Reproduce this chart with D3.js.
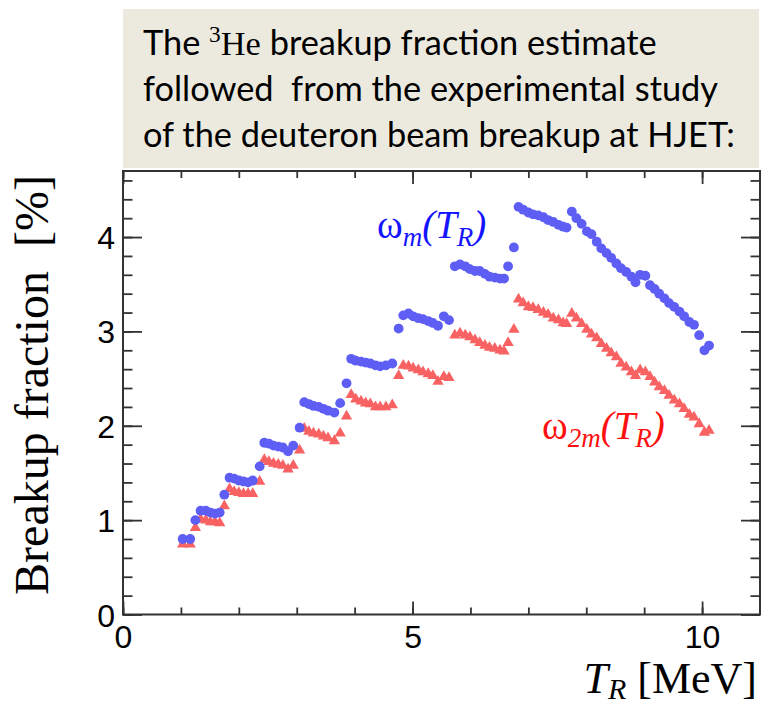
<!DOCTYPE html>
<html><head><meta charset="utf-8">
<script src="https://cdn.jsdelivr.net/npm/d3@7"></script>
<style>body{margin:0;background:#fff} svg{display:block}</style>
</head><body>
<svg id="c" width="763" height="704"></svg>
<script>
// ---- data ----
const energy = [1.03,1.16,1.25,1.34,1.43,1.51,1.59,1.67,1.75,1.84,1.92,2.00,2.08,2.16,2.24,2.36,2.44,2.52,2.60,2.68,2.76,2.85,2.94,3.05,3.13,3.21,3.29,3.38,3.46,3.54,3.65,3.75,3.86,3.94,4.02,4.11,4.19,4.27,4.36,4.44,4.54,4.65,4.76,4.84,4.93,5.01,5.10,5.18,5.27,5.35,5.44,5.54,5.63,5.73,5.82,5.91,5.99,6.08,6.16,6.25,6.33,6.42,6.51,6.58,6.65,6.75,6.83,6.91,7.00,7.08,7.17,7.26,7.34,7.43,7.52,7.60,7.66,7.75,7.83,7.92,8.01,8.09,8.18,8.26,8.35,8.43,8.52,8.60,8.69,8.78,8.85,8.93,9.02,9.10,9.18,9.26,9.35,9.43,9.52,9.61,9.69,9.78,9.86,9.95,10.04,10.12];
const omegaM = [0.80,0.80,1.00,1.10,1.10,1.08,1.07,1.08,1.27,1.45,1.44,1.42,1.41,1.40,1.42,1.57,1.82,1.81,1.79,1.78,1.77,1.73,1.79,1.98,2.25,2.23,2.21,2.20,2.18,2.16,2.14,2.24,2.45,2.71,2.69,2.68,2.67,2.66,2.64,2.63,2.64,2.66,3.03,3.17,3.19,3.16,3.14,3.13,3.11,3.09,3.06,3.16,3.12,3.69,3.71,3.69,3.66,3.64,3.64,3.61,3.58,3.57,3.56,3.56,3.69,3.89,4.32,4.29,4.26,4.24,4.23,4.21,4.18,4.16,4.13,4.11,4.10,4.27,4.20,4.14,4.06,4.03,3.95,3.88,3.83,3.78,3.72,3.67,3.63,3.58,3.52,3.60,3.59,3.49,3.45,3.40,3.35,3.30,3.26,3.21,3.16,3.10,3.07,2.96,2.80,2.85];
const omega2M = [0.745,0.745,0.92,1.01,1.00,0.98,0.98,0.97,1.15,1.33,1.30,1.29,1.28,1.28,1.28,1.41,1.64,1.62,1.60,1.59,1.58,1.54,1.58,1.74,1.97,1.94,1.92,1.91,1.89,1.87,1.84,1.92,2.10,2.33,2.28,2.26,2.24,2.23,2.20,2.20,2.20,2.22,2.53,2.64,2.63,2.61,2.59,2.57,2.55,2.53,2.47,2.52,2.51,2.96,2.98,2.96,2.94,2.91,2.88,2.85,2.83,2.82,2.80,2.79,2.88,3.02,3.34,3.30,3.26,3.25,3.23,3.20,3.18,3.14,3.12,3.09,3.08,3.19,3.14,3.08,3.02,2.97,2.93,2.87,2.82,2.77,2.73,2.66,2.62,2.57,2.53,2.59,2.57,2.52,2.46,2.41,2.37,2.32,2.27,2.23,2.18,2.12,2.09,2.02,1.93,1.95];
const xMajorTicks = [0,5,10];
const xMinorTicks = [0,1,2,3,4,5,6,7,8,9,10];
const yMajorTicks = [0,1,2,3,4];
const yMinorTicks = d3.range(0,24).map(i=>+(i*0.2).toFixed(1));
const titleLines = ["followed  from the experimental study","of the deuteron beam breakup at HJET:"];

// ---- layout ----
const svg = d3.select("#c");
const L=123, R=760, T=171, B=614.5;
const x = d3.scaleLinear().domain([0,11]).range([L,R]);
const y = d3.scaleLinear().domain([0,4.7]).range([B,T]);

// title box
svg.append("rect").attr("x",123).attr("y",9).attr("width",636).attr("height",159).attr("fill","#eceadf");
const tg = svg.append("g").attr("font-family","Lato, 'Open Sans', sans-serif").attr("fill","#000");
const l1 = tg.append("text").attr("x",143).attr("y",55);
l1.append("tspan").text("The ");
l1.append("tspan").attr("font-family","'Liberation Serif', serif").attr("dy",-13).attr("font-size","0.68em").text("3");
l1.append("tspan").attr("font-family","'Liberation Serif', serif").attr("dy",13).text("He");
l1.append("tspan").text(" breakup fraction estimate");
const l2 = tg.append("text").attr("x",143).attr("y",101).text(titleLines[0]).style("white-space","pre");
const l3 = tg.append("text").attr("x",143).attr("y",147).text(titleLines[1]);
tg.attr("font-size",32);
const w3 = l3.node().getComputedTextLength();
tg.attr("font-size", 32*592/w3);

// axes frame
svg.append("rect").attr("x",L).attr("y",T).attr("width",R-L).attr("height",B-T)
  .attr("fill","none").attr("stroke","#333").attr("stroke-width",2);

function ax(gen, tr){ const g=svg.append("g").attr("transform",tr).call(gen);
  g.select(".domain").remove(); g.selectAll("line").attr("stroke","#333").attr("stroke-width",1.8); return g;}
ax(d3.axisBottom(x).tickValues(xMinorTicks).tickSize(-7).tickFormat(""), `translate(0,${B})`);
ax(d3.axisTop(x).tickValues(xMinorTicks).tickSize(-7).tickFormat(""), `translate(0,${T})`);
ax(d3.axisLeft(y).tickValues(yMinorTicks).tickSize(-9.5).tickFormat(""), `translate(${L},0)`);
ax(d3.axisRight(y).tickValues(yMinorTicks).tickSize(-9.5).tickFormat(""), `translate(${R},0)`);
ax(d3.axisTop(x).tickValues(xMajorTicks).tickSize(-13).tickFormat(""), `translate(0,${T})`);
ax(d3.axisRight(y).tickValues(yMajorTicks).tickSize(-19).tickFormat(""), `translate(${R},0)`);
const xb = ax(d3.axisBottom(x).tickValues(xMajorTicks).tickSize(-13).tickPadding(0).tickFormat(d3.format("d")), `translate(0,${B})`);
xb.selectAll("text").attr("y",33).attr("dy",0).attr("font-family","'Liberation Sans', Arial, sans-serif").attr("font-size",32).attr("fill","#000");
const yl = ax(d3.axisLeft(y).tickValues(yMajorTicks).tickSize(-19).tickPadding(0).tickFormat(d3.format("d")), `translate(${L},0)`);
yl.selectAll("text").attr("x",-8).attr("dy","0.36em").attr("font-family","'Liberation Sans', Arial, sans-serif").attr("font-size",32).attr("fill","#000");

// axis titles
svg.append("text").attr("transform","translate(48,385) rotate(-90)").attr("text-anchor","middle")
  .attr("font-family","'Liberation Serif', 'Times New Roman', serif").attr("font-size",48).attr("fill","#000")
  .style("white-space","pre").text("Breakup fraction  [%]");
const xt = svg.append("text").attr("x",757).attr("y",693).attr("text-anchor","end")
  .attr("font-family","'Liberation Serif', 'Times New Roman', serif").attr("font-size",44).attr("fill","#000");
xt.append("tspan").attr("font-style","italic").text("T");
xt.append("tspan").attr("font-style","italic").attr("font-size",30).attr("dy",6).text("R");
xt.append("tspan").attr("dy",-6).style("white-space","pre").text(" [MeV]");

// data
const pts = energy.map((e,i)=>({e, m:omegaM[i], m2:omega2M[i]}));
svg.append("g").selectAll("path").data(pts).join("path")
  .attr("d", d3.symbol(d3.symbolTriangle, 55))
  .attr("transform", d=>`translate(${x(d.e)},${y(d.m2)})`)
  .attr("fill","#f86262");
svg.append("g").selectAll("circle").data(pts).join("circle")
  .attr("cx", d=>x(d.e)).attr("cy", d=>y(d.m)).attr("r",4.9).attr("fill","#5e5ef5");

// annotations
function omegaLabel(xp, yp, sub, color){
  const t = svg.append("text").attr("x",xp).attr("y",yp)
    .attr("font-family","'Liberation Serif', 'Times New Roman', serif").attr("font-size",39).attr("fill",color);
  t.append("tspan").text("ω");
  t.append("tspan").attr("font-style","italic").attr("font-size",27).attr("dy",8).text(sub);
  t.append("tspan").attr("font-style","italic").attr("dy",-8).text("(T");
  t.append("tspan").attr("font-style","italic").attr("font-size",27).attr("dy",8).text("R");
  t.append("tspan").attr("font-style","italic").attr("dy",-8).text(")");
}
omegaLabel(377, 238, "m", "#1414ff");
omegaLabel(542, 439, "2m", "#ff1010");
</script>
</body></html>
